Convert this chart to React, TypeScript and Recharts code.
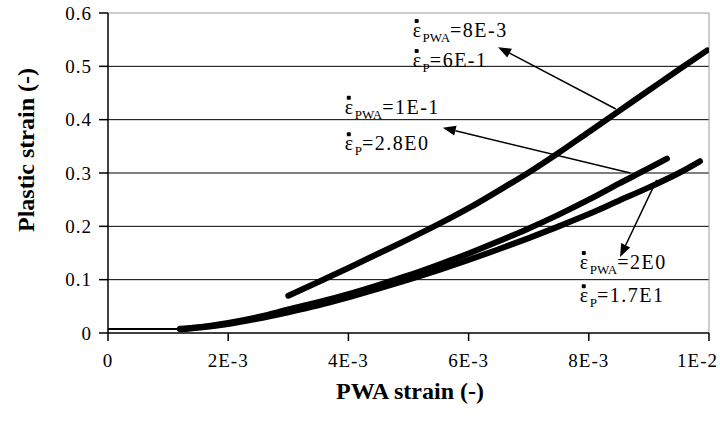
import {
  LineChart, Line, XAxis, YAxis, CartesianGrid,
  ReferenceLine, ReferenceDot, Customized
} from 'recharts';

// x values are in units of 1E-3 (PWA strain)
const xTicks = [0, 2, 4, 6, 8, 10];
const xTickLabels = ['0', '2E-3', '4E-3', '6E-3', '8E-3', '1E-2'];
const yTicks = [0, 0.1, 0.2, 0.3, 0.4, 0.5, 0.6];
const yTickLabels = ['0', '0.1', '0.2', '0.3', '0.4', '0.5', '0.6'];

// flat start shared by the two lower curves
const baseX = [0, 0.6, 1.2];
const baseY = [0.0075, 0.0075, 0.0075];

// upper curve: rate PWA 8E-3 / P 6E-1
const slowX = [3.0, 3.58, 4.0, 4.5, 5.0, 5.5, 6.0, 6.5, 7.0, 7.5, 8.0, 8.5, 9.0, 9.5, 9.97];
const slowY = [0.07, 0.1, 0.122, 0.149, 0.176, 0.204, 0.234, 0.267, 0.301, 0.338, 0.377, 0.416, 0.455, 0.494, 0.53];

// middle curve: rate PWA 1E-1 / P 2.8E0
const midX = [1.2, 1.5, 2.0, 2.5, 3.0, 3.5, 4.0, 4.5, 5.0, 5.5, 6.0, 6.5, 7.0, 7.5, 8.0, 8.5, 9.0, 9.3];
const midY = [0.008, 0.011, 0.019, 0.03, 0.044, 0.058, 0.073, 0.09, 0.108, 0.128, 0.149, 0.172, 0.196, 0.222, 0.25, 0.28, 0.309, 0.327];

// fast curve: rate PWA 2E0 / P 1.7E1
const fastX = [1.2, 1.5, 2.0, 2.5, 3.0, 3.5, 4.0, 4.5, 5.0, 5.5, 6.0, 6.5, 7.0, 7.5, 8.0, 8.5, 9.0, 9.5, 9.85];
const fastY = [0.007, 0.01, 0.017, 0.027, 0.039, 0.052, 0.067, 0.083, 0.1, 0.118, 0.137, 0.157, 0.178, 0.2, 0.223, 0.248, 0.273, 0.3, 0.322];

// annotation text lines: anchor (x, y), subscript, value
const noteX = [5.07, 5.07, 3.94, 3.94, 7.85, 7.85];
const noteY = [0.568, 0.512, 0.424, 0.356, 0.133, 0.071];
const noteSub = ['PWA', 'P', 'PWA', 'P', 'PWA', 'P'];
const noteVal = ['8E-3', '6E-1', '1E-1', '2.8E0', '2E0', '1.7E1'];

// arrows: from (x1, y1) to tip (x2, y2)
const arrowX1 = [8.45, 8.69, 9.13];
const arrowY1 = [0.42, 0.30, 0.287];
const arrowX2 = [6.49, 5.57, 8.52];
const arrowY2 = [0.536, 0.385, 0.1425];

const FONT = "'Liberation Serif', 'Times New Roman', Tinos, Times, 'DejaVu Serif', 'Noto Serif', serif";

function toRows(xs: number[], ys: number[]) {
  return xs.map((x, i) => ({ x, y: ys[i] }));
}

const baseData = toRows(baseX, baseY);
const slowData = toRows(slowX, slowY);
const midData = toRows(midX, midY);
const fastData = toRows(fastX, fastY);

function RateText(props: any) {
  const { cx, cy, sub, value } = props;
  return (
    <g>
      <rect x={cx + 2} y={cy - 11} width={4} height={4} rx={1} fill="#000" />
      <text
        x={cx}
        y={cy}
        style={{ fontFamily: FONT, letterSpacing: 1.5 }}
        fontSize={20}
        fill="#000"
        dominantBaseline="central"
      >
        {'\u03B5'}
        <tspan fontSize={13} dy={7} style={{ letterSpacing: 0 }}>{sub}</tspan>
        <tspan dy={-7}>={value}</tspan>
      </text>
    </g>
  );
}

function Arrow(props: any) {
  const { x1, y1, x2, y2 } = props;
  const a = Math.atan2(y2 - y1, x2 - x1);
  const len = 13;
  const half = 5;
  const bx = x2 - len * Math.cos(a);
  const by = y2 - len * Math.sin(a);
  const pts = [
    `${x2},${y2}`,
    `${bx - half * Math.sin(a)},${by + half * Math.cos(a)}`,
    `${bx + half * Math.sin(a)},${by - half * Math.cos(a)}`,
  ].join(' ');
  return (
    <g>
      <line x1={x1} y1={y1} x2={bx} y2={by} stroke="#000" strokeWidth={1.5} />
      <polygon points={pts} fill="#000" />
    </g>
  );
}

function XTick(props: any) {
  const { x, y, payload, index } = props;
  const last = index === xTicks.length - 1;
  return (
    <text
      x={last ? 718 : x}
      y={y}
      dy="0.71em"
      textAnchor={last ? 'end' : 'middle'}
      style={{ fontFamily: FONT, letterSpacing: 1 }}
      fontSize={19}
      fill="#000"
    >
      {xTickLabels[xTicks.indexOf(payload.value)]}
    </text>
  );
}

function YTick(props: any) {
  const { x, y, payload } = props;
  return (
    <text
      x={x}
      y={y}
      dy="0.355em"
      textAnchor="end"
      style={{ fontFamily: FONT, letterSpacing: 1 }}
      fontSize={19}
      fill="#000"
    >
      {yTickLabels[yTicks.indexOf(payload.value)]}
    </text>
  );
}

export default function App() {
  return (
    <div style={{ position: 'absolute', left: 0, top: 0, background: '#fff' }}>
      <LineChart width={720} height={422} margin={{ top: 13, right: 11, left: 0, bottom: 0 }}>
        <CartesianGrid vertical={false} stroke="#000" horizontalValues={[0.1, 0.2, 0.3, 0.4, 0.5]} />
        <XAxis
          type="number"
          dataKey="x"
          domain={[0, 10]}
          ticks={xTicks}
          height={89}
          stroke="#000"
          strokeWidth={1.5}
          tickSize={8}
          tickMargin={13}
          tick={<XTick />}
          allowDataOverflow
        />
        <YAxis
          type="number"
          dataKey="y"
          domain={[0, 0.6]}
          ticks={yTicks}
          width={108}
          stroke="#000"
          strokeWidth={1.5}
          tickSize={9}
          tickMargin={7}
          tick={<YTick />}
          allowDataOverflow
        />
        <ReferenceLine y={0.6} stroke="#999" />
        <ReferenceLine x={10} stroke="#999" />

        <Line data={baseData} dataKey="y" type="monotone" stroke="#000" strokeWidth={2} dot={false} isAnimationActive={false} />
        <Line data={fastData} dataKey="y" type="monotone" stroke="#000" strokeWidth={6} strokeLinecap="round" dot={false} isAnimationActive={false} />
        <Line data={midData} dataKey="y" type="monotone" stroke="#000" strokeWidth={6} strokeLinecap="round" dot={false} isAnimationActive={false} />
        <Line data={slowData} dataKey="y" type="monotone" stroke="#000" strokeWidth={6} strokeLinecap="round" dot={false} isAnimationActive={false} />

        {arrowX1.map((x1, i) => (
          <ReferenceLine
            key={'a' + i}
            segment={[{ x: x1, y: arrowY1[i] }, { x: arrowX2[i], y: arrowY2[i] }]}
            shape={<Arrow />}
          />
        ))}
        {noteX.map((x, i) => (
          <ReferenceDot
            key={'n' + i}
            x={x}
            y={noteY[i]}
            r={0}
            shape={<RateText sub={noteSub[i]} value={noteVal[i]} />}
          />
        ))}

        <Customized
          component={() => (
            <g style={{ fontFamily: FONT }}>
              <text x={410} y={399} textAnchor="middle" fontSize={24} fontWeight="bold" fill="#000">
                PWA strain (-)
              </text>
              <text
                x={0}
                y={0}
                transform="translate(34, 150) rotate(-90)"
                textAnchor="middle"
                fontSize={24}
                fontWeight="bold"
                fill="#000"
              >
                Plastic strain (-)
              </text>
            </g>
          )}
        />
      </LineChart>
    </div>
  );
}
